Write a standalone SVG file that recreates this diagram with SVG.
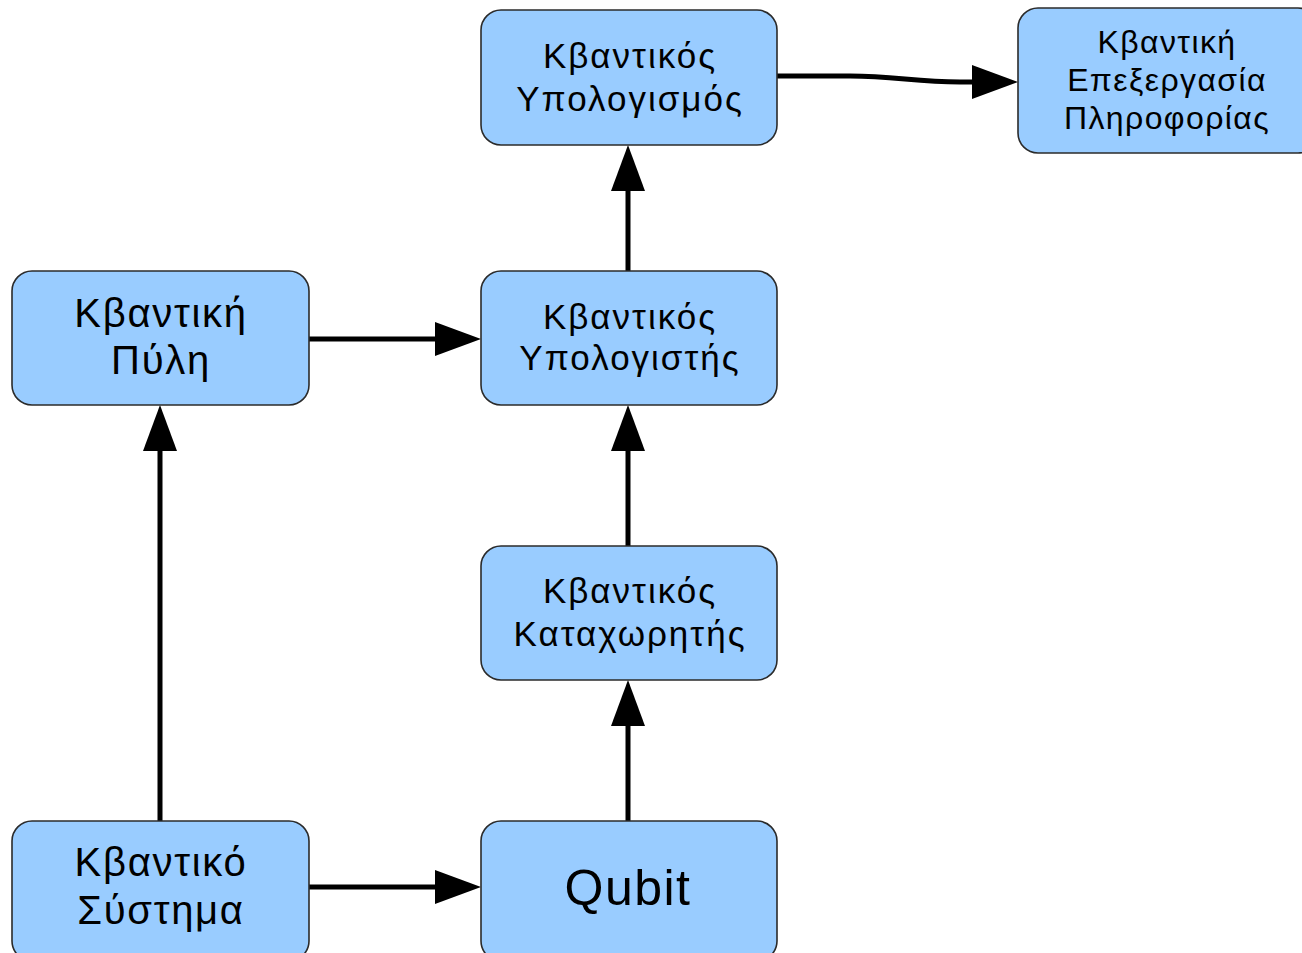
<svg xmlns="http://www.w3.org/2000/svg" width="1302" height="953" viewBox="0 0 1302 953">
<style>
.n{fill:#99ccff;stroke:#2b2b2b;stroke-width:1.6}
.t{font-family:"Liberation Sans",Arial,sans-serif;fill:#000;text-anchor:middle}
.m{font-size:35px;letter-spacing:2px}
.l{font-size:40px;letter-spacing:1.7px}
.s{font-size:32px;letter-spacing:1.4px}
.c{fill:none;stroke:#000;stroke-width:5;marker-end:url(#ah)}
</style>
<defs>
<marker id="ah" markerUnits="userSpaceOnUse" markerWidth="46" markerHeight="34" refX="5" refY="17" orient="auto">
<path d="M0,0 L46,17 L0,34 z" fill="#000"/>
</marker>
</defs>
<rect width="1302" height="953" fill="#fff"/>
<g id="connectors">
<path class="c" d="M777,76 L850,76 C895,76 915,82 960,82 L977,82"/>
<path class="c" d="M628,271 L628,186"/>
<path class="c" d="M628,546 L628,446"/>
<path class="c" d="M628,821 L628,721"/>
<path class="c" d="M309,339 L440,339"/>
<path class="c" d="M309,887 L440,887"/>
<path class="c" d="M160,821 L160,446"/>
</g>
<g id="n_ypologismos">
<rect class="n" x="481" y="10" width="296" height="135" rx="20"/>
<text class="t m" x="630" y="68">Κβαντικός</text>
<text class="t m" x="630" y="111">Υπολογισμός</text>
</g>
<g id="n_epexergasia">
<rect class="n" x="1018" y="8" width="300" height="145" rx="20"/>
<text class="t s" x="1167" y="53">Κβαντική</text>
<text class="t s" x="1167" y="91">Επεξεργασία</text>
<text class="t s" x="1167" y="129">Πληροφορίας</text>
</g>
<g id="n_pyli">
<rect class="n" x="12" y="271" width="297" height="134" rx="20"/>
<text class="t l" x="161" y="327">Κβαντική</text>
<text class="t l" x="161" y="374">Πύλη</text>
</g>
<g id="n_ypologistis">
<rect class="n" x="481" y="271" width="296" height="134" rx="20"/>
<text class="t m" x="630" y="329">Κβαντικός</text>
<text class="t m" x="630" y="370">Υπολογιστής</text>
</g>
<g id="n_kataxoritis">
<rect class="n" x="481" y="546" width="296" height="134" rx="20"/>
<text class="t m" x="630" y="603">Κβαντικός</text>
<text class="t m" x="630" y="646">Καταχωρητής</text>
</g>
<g id="n_systima">
<rect class="n" x="12" y="821" width="297" height="140" rx="20"/>
<text class="t l" x="161" y="876">Κβαντικό</text>
<text class="t l" x="161" y="924">Σύστημα</text>
</g>
<g id="n_qubit">
<rect class="n" x="481" y="821" width="296" height="140" rx="20"/>
<text class="t" font-size="50" letter-spacing="1.5" x="628" y="905">Qubit</text>
</g>
</svg>
